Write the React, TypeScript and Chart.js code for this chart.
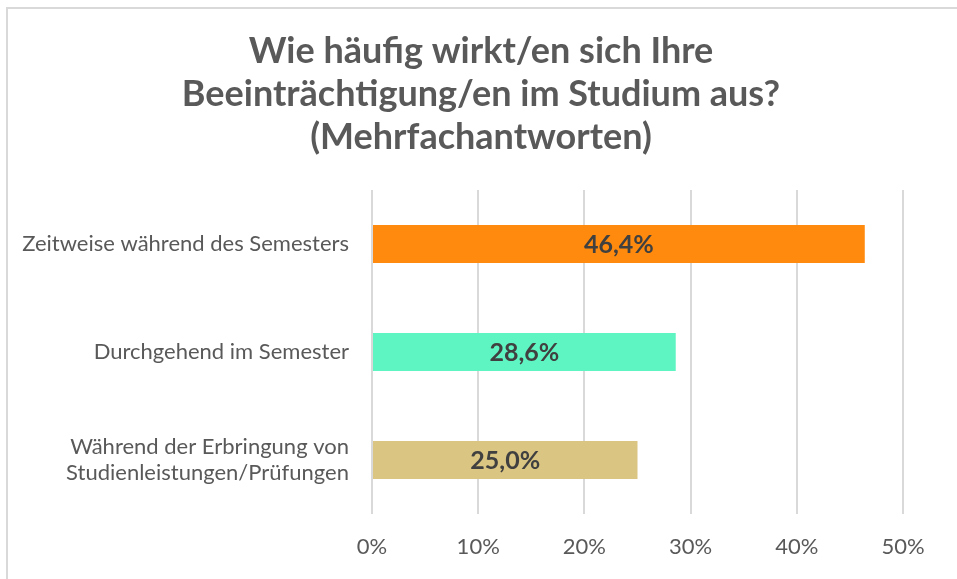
import React, { useEffect, useRef } from "react";
import { Chart, registerables } from "chart.js";

Chart.register(...registerables);

const titleLines = [
  "Wie häufig wirkt/en sich Ihre",
  "Beeinträchtigung/en im Studium aus?",
  "(Mehrfachantworten)",
];
const categories: (string | string[])[] = [
  "Zeitweise während des Semesters",
  "Durchgehend im Semester",
  ["Während der Erbringung von", "Studienleistungen/Prüfungen"],
];
const values = [46.4, 28.6, 25.0];
const barColors = ["#FF8A0D", "#5EF5C2", "#DBC582"];
const xTicks = [0, 10, 20, 30, 40, 50];

const FONT = "Lato, 'Open Sans', sans-serif";

const valueLabelPlugin = {
  id: "valueLabels",
  afterDatasetsDraw(chart: any) {
    const ctx = chart.ctx;
    const meta = chart.getDatasetMeta(0);
    ctx.save();
    ctx.font = `bold 25px ${FONT}`;
    ctx.fillStyle = "#404040";
    ctx.textAlign = "center";
    ctx.textBaseline = "middle";
    meta.data.forEach((bar: any, i: number) => {
      const v = values[i];
      const cx = (bar.x + bar.base) / 2;
      ctx.fillText(v.toFixed(1).replace(".", ",") + "%", cx, bar.y + 1);
    });
    ctx.restore();
  },
};

const titlePlugin = {
  id: "customTitle",
  afterDraw(chart: any) {
    const ctx = chart.ctx;
    ctx.save();
    ctx.font = `bold 36px ${FONT}`;
    ctx.fillStyle = "#595959";
    ctx.textAlign = "center";
    ctx.textBaseline = "alphabetic";
    titleLines.forEach((line, i) => {
      ctx.fillText(line, 481, 63 + i * 43);
    });
    ctx.restore();
  },
};

export default function App() {
  const ref = useRef<HTMLCanvasElement | null>(null);
  useEffect(() => {
    if (!ref.current) return;
    const chart = new Chart(ref.current, {
      type: "bar",
      data: {
        labels: categories,
        datasets: [
          {
            data: values,
            backgroundColor: barColors,
            borderWidth: 0,
            barPercentage: 0.7,
            categoryPercentage: 0.5,
          },
        ],
      },
      options: {
        indexAxis: "y",
        animation: false,
        responsive: false,
        maintainAspectRatio: false,
        layout: { padding: { top: 190, right: 54, bottom: 0, left: 0 } },
        plugins: {
          legend: { display: false },
          tooltip: { enabled: false },
          title: { display: false },
        },
        scales: {
          x: {
            min: 0,
            max: 50,
            afterBuildTicks: (scale: any) => {
              scale.ticks = xTicks.map((v) => ({ value: v }));
            },
            afterFit: (scale: any) => {
              scale.height = 65;
            },
            grid: { color: "#d9d9d9", lineWidth: 2, drawTicks: false },
            border: { display: false },
            ticks: {
              color: "#595959",
              padding: 20,
              font: { family: FONT, size: 22 },
              callback: (v: any) => v + "%",
            },
          },
          y: {
            afterFit: (scale: any) => {
              scale.width = 372;
            },
            grid: { display: false, drawTicks: false },
            border: { display: false },
            ticks: {
              color: "#595959",
              padding: 23,
              font: { family: FONT, size: 22, lineHeight: 1.2 },
            },
          },
        },
      },
      plugins: [valueLabelPlugin, titlePlugin],
    } as any);
    return () => chart.destroy();
  }, []);

  return (
    <div
      style={{
        position: "absolute",
        left: 0,
        top: 0,
        width: 957,
        height: 579,
        overflow: "hidden",
        background: "#fff",
      }}
    >
      <div
        style={{
          position: "absolute",
          left: 6,
          top: 7,
          width: 1100,
          height: 800,
          border: "2px solid #d9d9d9",
          boxSizing: "border-box",
        }}
      />
      <canvas
        ref={ref}
        width={957}
        height={579}
        style={{ position: "absolute", left: 0, top: 0, width: 957, height: 579 }}
      />
    </div>
  );
}
